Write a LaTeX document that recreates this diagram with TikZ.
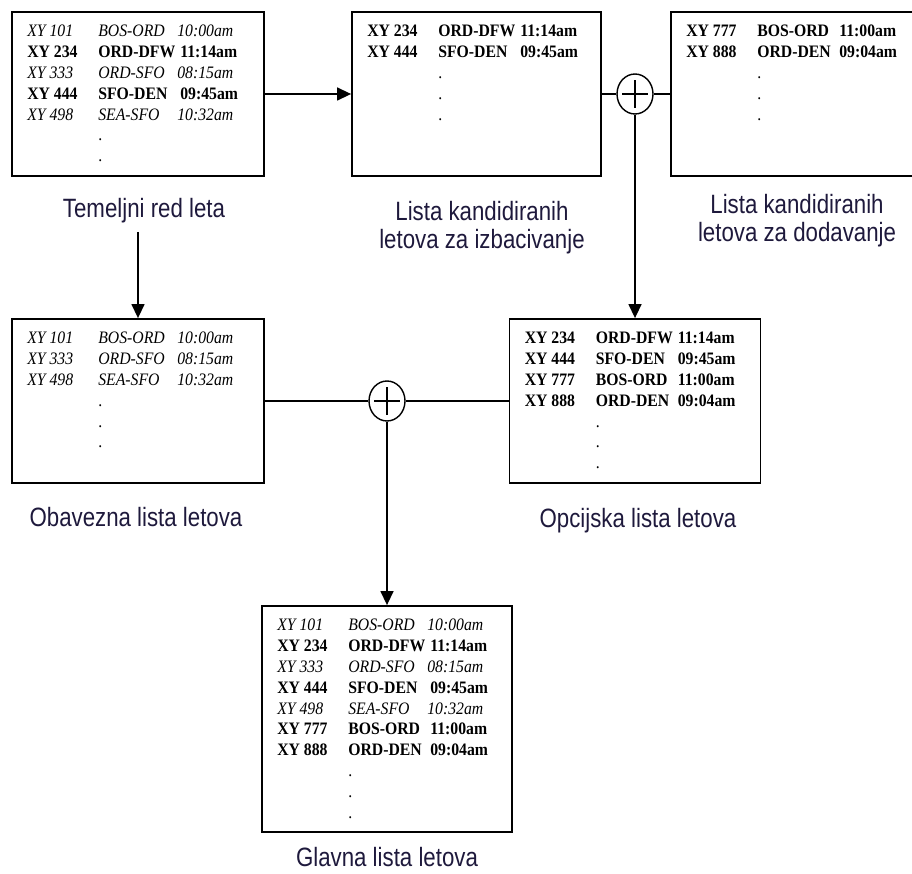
\documentclass[tikz,border=0pt]{standalone}
\usepackage{fontspec}
\setmainfont[FakeStretch=0.9]{Liberation Serif}
\newfontfamily\labfont[FakeStretch=0.84]{Liberation Sans}
\usetikzlibrary{arrows.meta,shapes.geometric}
\definecolor{labcol}{RGB}{30,25,60}
\newcommand\irow[3]{\textit{#1} & \textit{#2} & \hspace*{-3pt}\textit{#3}\\}
\newcommand\brow[3]{\textbf{#1} & \textbf{#2} & \textbf{#3}\\}
\newcommand\drow{ & . & \\}
\newenvironment{flist}{\begin{tabular}{@{}p{71pt}@{}p{82pt}@{}l@{}}}{\end{tabular}}
\tikzset{
  listbox/.style={draw, line width=1.8pt, inner sep=0pt},
  tbl/.style={anchor=north west, inner sep=0pt, font=\fontsize{17.5}{20.8}\selectfont},
  lab/.style={anchor=north, font=\labfont\fontsize{26.5}{28}\selectfont, text=labcol, inner sep=0pt},
  labtwo/.style={lab, align=center},
  conn/.style={line width=1.4pt},
  arr/.style={conn, -{Triangle[length=14pt,width=13pt]}},
  summ/.style={draw, ellipse, line width=1.4pt, minimum width=36pt, minimum height=40pt, inner sep=0pt},
  plusbar/.style={line width=2pt}
}
\begin{document}
\begin{tikzpicture}[x=1pt,y=-1pt]
\useasboundingbox (0,0) rectangle (912,874);
% boxes
\node[listbox, minimum width=252pt, minimum height=164pt] (b1) at (138,94) {};
\node[listbox, minimum width=249pt, minimum height=164pt] (b2) at (476.5,94) {};
\node[listbox, minimum width=259pt, minimum height=164pt] (b3) at (800.5,94) {};
\node[listbox, minimum width=252pt, minimum height=164pt] (b4) at (138,401) {};
\node[listbox, minimum width=251pt, minimum height=164pt] (b5) at (635,401) {};
\node[listbox, minimum width=250pt, minimum height=226pt] (b6) at (387,719) {};
% tables
\node[tbl] (t1) at ([xshift=16pt,yshift=-11pt]b1.north west) {\begin{flist}
\irow{XY 101}{BOS-ORD}{10:00am}
\brow{XY 234}{ORD-DFW}{11:14am}
\irow{XY 333}{ORD-SFO}{08:15am}
\brow{XY 444}{SFO-DEN}{09:45am}
\irow{XY 498}{SEA-SFO}{10:32am}
\drow
\drow
\end{flist}};
\node[tbl] (t2) at ([xshift=16pt,yshift=-11pt]b2.north west) {\begin{flist}
\brow{XY 234}{ORD-DFW}{11:14am}
\brow{XY 444}{SFO-DEN}{09:45am}
\drow
\drow
\drow
\end{flist}};
\node[tbl] (t3) at ([xshift=16pt,yshift=-11pt]b3.north west) {\begin{flist}
\brow{XY 777}{BOS-ORD}{11:00am}
\brow{XY 888}{ORD-DEN}{09:04am}
\drow
\drow
\drow
\end{flist}};
\node[tbl] (t4) at ([xshift=16pt,yshift=-11pt]b4.north west) {\begin{flist}
\irow{XY 101}{BOS-ORD}{10:00am}
\irow{XY 333}{ORD-SFO}{08:15am}
\irow{XY 498}{SEA-SFO}{10:32am}
\drow
\drow
\drow
\end{flist}};
\node[tbl] (t5) at ([xshift=16pt,yshift=-11pt]b5.north west) {\begin{flist}
\brow{XY 234}{ORD-DFW}{11:14am}
\brow{XY 444}{SFO-DEN}{09:45am}
\brow{XY 777}{BOS-ORD}{11:00am}
\brow{XY 888}{ORD-DEN}{09:04am}
\drow
\drow
\drow
\end{flist}};
\node[tbl] (t6) at ([xshift=16pt,yshift=-11pt]b6.north west) {\begin{flist}
\irow{XY 101}{BOS-ORD}{10:00am}
\brow{XY 234}{ORD-DFW}{11:14am}
\irow{XY 333}{ORD-SFO}{08:15am}
\brow{XY 444}{SFO-DEN}{09:45am}
\irow{XY 498}{SEA-SFO}{10:32am}
\brow{XY 777}{BOS-ORD}{11:00am}
\brow{XY 888}{ORD-DEN}{09:04am}
\drow
\drow
\drow
\end{flist}};
% labels
\node[lab] (l1) at (144,198) {Temeljni red leta};
\node[labtwo] (l2) at (482,201) {Lista kandidiranih\\letova za izbacivanje};
\node[labtwo] (l3) at (797,194) {Lista kandidiranih\\letova za dodavanje};
\node[lab] (l4) at (136,507) {Obavezna lista letova};
\node[lab] (l5) at (638,508) {Opcijska lista letova};
\node[lab] (l6) at (387,847) {Glavna lista letova};
% summation nodes
\node[summ] (c1) at (635,94) {};
\node[summ] (c2) at (387,401) {};
\draw[plusbar] ([xshift=-13pt]c1.center) -- ([xshift=13pt]c1.center);
\draw[plusbar] ([yshift=-14pt]c1.center) -- ([yshift=14pt]c1.center);
\draw[plusbar] ([xshift=-13pt]c2.center) -- ([xshift=13pt]c2.center);
\draw[plusbar] ([yshift=-14pt]c2.center) -- ([yshift=14pt]c2.center);
% connectors
\coordinate (a2s) at (138,232);
\draw[arr] (b1.east) -- (b2.west);
\draw[arr] (a2s) -- (b4.north);
\draw[conn] (b2.east) -- (c1.west);
\draw[conn] (c1.east) -- (b3.west);
\draw[arr] (c1.south) -- (c1.south |- b5.north);
\draw[conn] (b4.east) -- (c2.west);
\draw[conn] (c2.east) -- (b5.west);
\draw[arr] (c2.south) -- (c2.south |- b6.north);
\end{tikzpicture}
\end{document}
